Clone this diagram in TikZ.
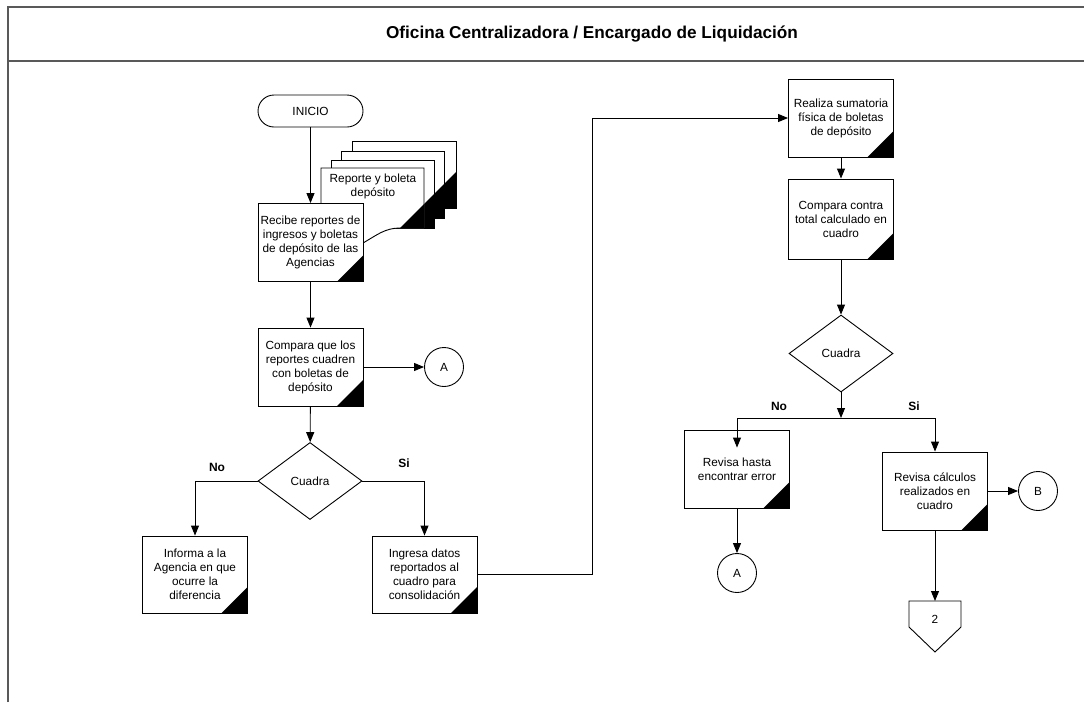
\documentclass[tikz,border=0pt]{standalone}
\usepackage{fontspec}
\setmainfont{Liberation Sans}
\usetikzlibrary{shapes.geometric,arrows.meta,calc}

\begin{document}
\begin{tikzpicture}[x=1pt,y=-1pt,
  every node/.style={font=\fontsize{11.8}{14}\selectfont, text=black},
  ln/.style={line width=0.9pt, draw=black},
  frameline/.style={line width=1.4pt, draw=black!65},
  proc/.style={ln, fill=white, rectangle, minimum width=105pt, minimum height=78pt,
    inner sep=1pt, align=center,
    path picture={\fill[black] (path picture bounding box.south east)
      -- ++(-26pt,0pt) -- ++(26pt,26pt) -- cycle;}},
  term/.style={ln, fill=white, rectangle, rounded corners=16pt,
    minimum width=105pt, minimum height=32pt},
  dec/.style={ln, fill=white, diamond, minimum width=104pt, minimum height=77pt, inner sep=0pt},
  conn/.style={ln, fill=white, circle, minimum size=39pt, inner sep=0pt},
  page/.style={ln, fill=white},
  arr/.style={ln, -{Triangle[length=10pt,width=8pt]}},
  lbl/.style={font=\fontsize{12}{14}\selectfont\bfseries},
]
\useasboundingbox (0,0) rectangle (1084,702);

% swimlane frame and header
\draw[frameline] (8,702) -- (8,7) -- (1084,7);
\draw[frameline] (8,61) -- (1084,61);
\node[font=\fontsize{17.2}{20}\selectfont\bfseries] (title) at (592,34)
  {Oficina Centralizadora / Encargado de Liquidación};

% stack of documents (back to front)
\draw[page] (352,208) -- (352,141) -- (456,141) -- (456,208) -- cycle;
\fill[black] (420,208) -- (456,172) -- (456,208) -- cycle;
\draw[page] (341,218) -- (341,151) -- (444,151) -- (444,218) -- cycle;
\fill[black] (410,218) -- (444,184) -- (444,218) -- cycle;
\draw[page] (331,228) -- (331,160) -- (434,160) -- (434,228) -- cycle;
\fill[black] (400,228) -- (434,194) -- (434,228) -- cycle;
\draw[page] (321,168) -- (424,168) -- (424,228) -- (400,228)
  .. controls (385,228) and (377,235) .. (363,243)
  .. controls (345,252) and (330,245) .. (321,238) -- cycle;
\fill[black] (400,228) -- (424,204) -- (424,228) -- cycle;
\node[align=center] (doc) at (373,186) {Reporte y boleta\\depósito};

% left column
\node[term] (ini) at (310.5,111) {INICIO};
\node[proc] (rec) at (310.5,242.5) {Recibe reportes de\\ingresos y boletas\\de depósito de las\\Agencias};
\node[proc] (cmp) at (310.5,367) {Compara que los\\reportes cuadren\\con boletas de\\depósito};
\node[conn] (ca1) at (444,367) {A};
\node[dec] (dq1) at (310,481) {Cuadra};
\node[proc, minimum height=77pt] (inf) at (195,574.5) {Informa a la\\Agencia en que\\ocurre la\\diferencia};
\node[proc, minimum height=77pt] (ing) at (424.5,574.5) {Ingresa datos\\reportados al\\cuadro para\\consolidación};

% right column
\node[proc] (rea) at (841,118) {Realiza sumatoria\\física de boletas\\de depósito};
\node[proc, minimum height=80pt] (cc) at (841,219) {Compara contra\\total calculado en\\cuadro};
\node[dec] (dq2) at (841,353.5) {Cuadra};
\coordinate (jn) at (841,418);
\node[proc] (rh) at (737,469) {Revisa hasta\\encontrar error};
\node[proc] (rc) at (935,491) {Revisa cálculos\\realizados en\\cuadro};
\node[conn] (ca2) at (737,573) {A};
\node[conn] (cb) at (1038,491) {B};

% off-page connector
\coordinate (opTop) at (935,601);
\draw[ln, fill=white] (909,601) -- (961,601) -- (961,627) -- (935,652) -- (909,627) -- cycle;
\node (op) at (935,619) {2};

% branch labels
\node[lbl] (no1) at (217,467) {No};
\node[lbl] (si1) at (404,463) {Si};
\node[lbl] (no2) at (779,406) {No};
\node[lbl] (si2) at (914,406) {Si};

% connectors
\draw[arr] (ini) -- (rec);
\draw[arr] (rec) -- (cmp);
\draw[arr] (cmp.east) -- (ca1);
\draw[arr] (cmp) -- (dq1);
\draw[arr] (dq1.west) -| (inf.north);
\draw[arr] (dq1.east) -| (ing.north);
\draw[arr] (ing.east) -- ++(115,0) |- (rea.west);
\draw[arr] (rea) -- (cc);
\draw[arr] (cc) -- (dq2);
\draw[arr] (dq2.south) -- (jn);
\draw[arr] (jn) -| ([yshift=-18pt]rh.north);
\draw[arr] (jn) -| (rc.north);
\draw[arr] (rh) -- (ca2);
\draw[arr] (rc.east) -- (cb.west);
\draw[arr] (rc.south) -- (opTop);
\end{tikzpicture}
\end{document}
